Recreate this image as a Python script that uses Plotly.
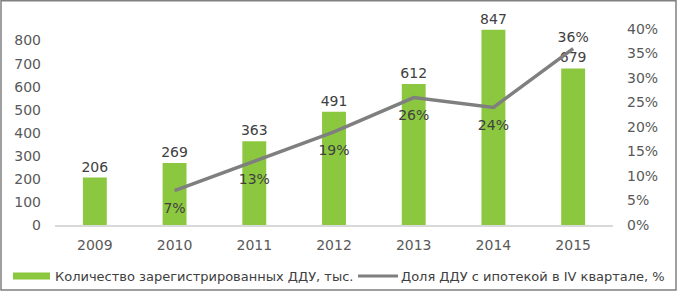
"""ДДУ: количество и доля с ипотекой (Plotly)"""

import plotly.graph_objects as go

years = ["2009", "2010", "2011", "2012", "2013", "2014", "2015"]
ddu_count = [206, 269, 363, 491, 612, 847, 679]
mortgage_share = [None, 0.07, 0.13, 0.19, 0.26, 0.24, 0.36]
share_text_pos = ["bottom center"] * 6 + ["top center"]

left_ticks = list(range(0, 900, 100))
right_ticks = [i / 100 for i in range(0, 45, 5)]

BAR_NAME = "Количество зарегистрированных ДДУ, тыс."
LINE_NAME = "Доля ДДУ с ипотекой в IV квартале, %"

GREEN = "#8CC83F"
GREY = "#7F7F7F"
TEXT = "#404040"
TICK = "#595959"
FONT = "DejaVu Sans, Verdana, sans-serif"

W, H = 679, 292
M = dict(l=55, r=66, t=18, b=67)
PW = W - M["l"] - M["r"]
PH = H - M["t"] - M["b"]


def px_x(x):
    """пиксель -> paper x"""
    return (x - M["l"]) / PW


def px_y(y):
    """пиксель -> paper y"""
    return (H - M["b"] - y) / PH


fig = go.Figure()
fig.add_trace(go.Bar(
    x=years, y=ddu_count, name=BAR_NAME,
    marker=dict(color=GREEN, line=dict(width=0)),
    width=0.3,
    text=ddu_count, textposition="outside", constraintext="none",
    textfont=dict(color=TEXT, size=14, family=FONT),
    cliponaxis=False,
))
# невидимые маркеры нужны только для отступа подписей от линии
fig.add_trace(go.Scatter(
    x=years, y=mortgage_share, name=LINE_NAME, yaxis="y2",
    mode="lines+markers+text",
    line=dict(color=GREY, width=3.5),
    marker=dict(size=[18] * 6 + [4], color="rgba(0,0,0,0)", opacity=0,
                line=dict(width=0, color="rgba(0,0,0,0)")),
    texttemplate="%{y:.0%}", textposition=share_text_pos,
    textfont=dict(color=TEXT, size=14, family=FONT),
    cliponaxis=False,
))

# легенда вручную (широкий прямоугольник, как в оригинале)
shapes = [
    dict(type="rect", xref="paper", yref="paper",
         x0=px_x(13), x1=px_x(50), y0=px_y(279.5), y1=px_y(272.5),
         fillcolor=GREEN, line=dict(width=0)),
    dict(type="line", xref="paper", yref="paper",
         x0=px_x(358), x1=px_x(398), y0=px_y(276), y1=px_y(276),
         line=dict(color=GREY, width=3)),
    dict(type="rect", xref="paper", yref="paper",
         x0=px_x(1), x1=px_x(676), y0=px_y(290), y1=px_y(0.8),
         line=dict(color="#808080", width=1.5)),
]
annotations = [
    dict(text=BAR_NAME, xref="paper", yref="paper", x=px_x(53), y=px_y(276),
         xanchor="left", yanchor="middle", showarrow=False,
         font=dict(color=TEXT, size=13, family=FONT)),
    dict(text=LINE_NAME, xref="paper", yref="paper", x=px_x(399), y=px_y(276),
         xanchor="left", yanchor="middle", showarrow=False,
         font=dict(color=TEXT, size=13, family=FONT)),
]

fig.update_layout(
    width=W, height=H,
    margin=M,
    paper_bgcolor="white", plot_bgcolor="white",
    showlegend=False,
    font=dict(family=FONT, color=TICK, size=14),
    xaxis=dict(
        type="category", range=[-0.5, 6.5],
        showgrid=False, showline=True, linecolor="#D9D9D9", linewidth=1.5,
        ticks="", tickfont=dict(size=14, color=TICK),
        ticklabelstandoff=6,
    ),
    yaxis=dict(
        range=[0, 898], tickvals=left_ticks,
        showgrid=False, zeroline=False, showline=False,
        tickfont=dict(size=14, color=TICK),
        ticklabelstandoff=13,
    ),
    yaxis2=dict(
        overlaying="y", side="right",
        range=[0, 0.4224], tickvals=right_ticks, tickformat=".0%",
        showgrid=False, zeroline=False, showline=False,
        tickfont=dict(size=14, color=TICK),
        ticklabelstandoff=13,
    ),
    shapes=shapes,
    annotations=annotations,
)

fig.write_html("out.html", config={"displayModeBar": False},
               post_script="document.body.style.margin='0';")
